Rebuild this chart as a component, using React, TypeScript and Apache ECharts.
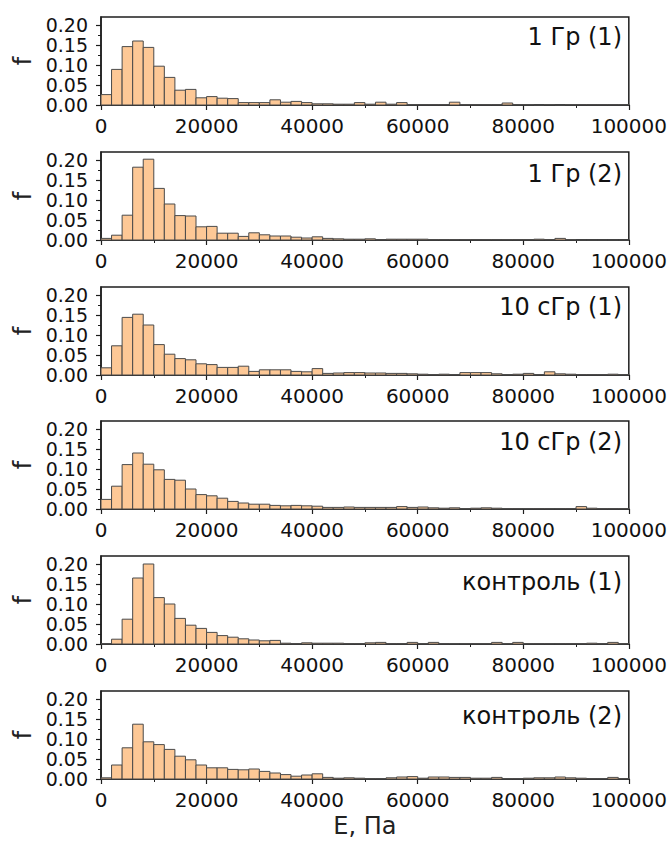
import React, { useEffect, useRef } from 'react';
import * as echarts from 'echarts';

const BIN_WIDTH = 2000;
const panelTitles = ['1 Гр (1)', '1 Гр (2)', '10 сГр (1)', '10 сГр (2)', 'контроль (1)', 'контроль (2)'];

const f1Gy1 = [0.026, 0.089, 0.146, 0.160, 0.144, 0.097, 0.069, 0.037, 0.039, 0.018, 0.021, 0.017, 0.016, 0.006, 0.006, 0.006, 0.013, 0.007, 0.009, 0.006, 0.003, 0.003,
  0.002, 0.002, 0.006, 0.002, 0.007, 0.002, 0.006, 0.001, 0.001, 0.001, 0.001, 0.007, 0.001, 0.001, 0.001, 0.001, 0.005, 0.001, 0.001, 0.000, 0.001, 0.000, 0.001, 0.001, 0.001, 0.001, 0.001, 0.001];
const f1Gy2 = [0.004, 0.012, 0.062, 0.182, 0.202, 0.129, 0.090, 0.061, 0.060, 0.033, 0.034, 0.017, 0.017, 0.009, 0.018, 0.013, 0.010, 0.010, 0.007, 0.005, 0.008, 0.004,
  0.003, 0.002, 0.002, 0.003, 0.001, 0.002, 0.002, 0.002, 0.002, 0.001, 0.001, 0.001, 0.001, 0.001, 0.001, 0.001, 0.001, 0.001, 0.001, 0.002, 0.001, 0.004, 0.001, 0.000, 0.000, 0.000, 0.000, 0.000];
const f10cGy1 = [0.018, 0.073, 0.144, 0.152, 0.125, 0.076, 0.052, 0.041, 0.038, 0.028, 0.026, 0.019, 0.019, 0.022, 0.009, 0.013, 0.013, 0.013, 0.009, 0.008, 0.016, 0.004,
  0.005, 0.006, 0.006, 0.005, 0.005, 0.004, 0.004, 0.003, 0.002, 0.001, 0.002, 0.001, 0.006, 0.006, 0.006, 0.003, 0.001, 0.002, 0.004, 0.001, 0.008, 0.003, 0.002, 0.001, 0.001, 0.001, 0.002, 0.001];
const f10cGy2 = [0.024, 0.057, 0.111, 0.140, 0.112, 0.098, 0.074, 0.072, 0.050, 0.036, 0.033, 0.027, 0.019, 0.015, 0.012, 0.012, 0.009, 0.008, 0.009, 0.008, 0.007, 0.004,
  0.004, 0.005, 0.004, 0.004, 0.004, 0.004, 0.006, 0.004, 0.005, 0.003, 0.002, 0.003, 0.001, 0.002, 0.003, 0.002, 0.001, 0.001, 0.001, 0.001, 0.001, 0.001, 0.001, 0.006, 0.002, 0.001, 0.001, 0.001];
const fControl1 = [0.001, 0.012, 0.062, 0.165, 0.200, 0.116, 0.100, 0.064, 0.047, 0.039, 0.029, 0.021, 0.017, 0.013, 0.010, 0.008, 0.009, 0.002, 0.001, 0.003, 0.002, 0.002,
  0.002, 0.001, 0.001, 0.003, 0.004, 0.001, 0.001, 0.004, 0.001, 0.004, 0.001, 0.001, 0.001, 0.001, 0.001, 0.004, 0.001, 0.004, 0.001, 0.001, 0.001, 0.001, 0.001, 0.001, 0.002, 0.001, 0.004, 0.001];
const fControl2 = [0.003, 0.035, 0.078, 0.137, 0.093, 0.086, 0.074, 0.057, 0.048, 0.035, 0.028, 0.028, 0.024, 0.023, 0.025, 0.019, 0.015, 0.011, 0.007, 0.010, 0.013, 0.004,
  0.002, 0.003, 0.002, 0.001, 0.001, 0.003, 0.005, 0.006, 0.002, 0.005, 0.005, 0.004, 0.004, 0.002, 0.002, 0.004, 0.001, 0.001, 0.002, 0.003, 0.003, 0.005, 0.003, 0.002, 0.001, 0.001, 0.004, 0.001];

const panelData = [f1Gy1, f1Gy2, f10cGy1, f10cGy2, fControl1, fControl2];

const yMajorTicks = [0, 0.05, 0.1, 0.15, 0.2];
const yMinorTicks = [0.025, 0.075, 0.125, 0.175];

const FONT = 'DejaVu Sans';
const gridTops = [17, 152, 287, 421, 556, 691];
const titleY = [37, 174, 307, 442, 582, 716];

export default function App() {
  const ref = useRef<HTMLDivElement>(null);
  useEffect(() => {
    const chart = echarts.init(ref.current!, null, { renderer: 'svg' });
    const axisColor = '#1e1e1e';
    const grids: any[] = [];
    const xAxes: any[] = [];
    const yAxes: any[] = [];
    const series: any[] = [];
    const graphics: any[] = [];
    panelData.forEach((vals, i) => {
      grids.push({
        left: 101, width: 528, top: gridTops[i], height: 88,
        show: true, borderColor: axisColor, borderWidth: 1.5, backgroundColor: 'transparent',
      });
      const last = i === panelData.length - 1;
      xAxes.push({
        type: 'value', gridIndex: i, min: 0, max: 100000, interval: 20000,
        axisLine: { show: true, onZero: false, lineStyle: { color: axisColor, width: 1.5 } },
        axisTick: { show: true, length: 5, lineStyle: { color: axisColor, width: 1.2 } },
        minorTick: { show: true, splitNumber: 2, length: 3, lineStyle: { color: axisColor, width: 1 } },
        splitLine: { show: false },
        axisLabel: {
          fontSize: 20, fontFamily: FONT, color: '#111', margin: 11,
          formatter: (v: number) => String(Math.round(v)),
        },
        name: last ? 'E, Па' : '',
        nameLocation: 'middle', nameGap: 35,
        nameTextStyle: { fontSize: 24, fontFamily: FONT, color: '#222' },
      });
      yAxes.push({
        type: 'value', gridIndex: i, min: 0, max: 0.22, interval: 0.05,
        axisLine: { show: true, lineStyle: { color: axisColor, width: 1.5 } },
        axisTick: { show: true, length: 5, customValues: yMajorTicks, lineStyle: { color: axisColor, width: 1.2 } },
        splitLine: { show: false },
        axisLabel: {
          fontSize: 19, fontFamily: FONT, color: '#111', margin: 13,
          customValues: yMajorTicks,
          formatter: (v: number) => (Math.abs(v * 20 - Math.round(v * 20)) < 1e-6 ? v.toFixed(2) : ''),
        },
        name: 'f', nameLocation: 'middle', nameRotate: 90, nameGap: 62,
        nameTextStyle: { fontSize: 24, fontFamily: FONT, color: '#222' },
      });
      yAxes.push({
        type: 'value', gridIndex: i, min: 0, max: 0.22, position: 'left',
        axisLine: { show: false },
        axisTick: { show: true, length: 3, customValues: yMinorTicks, lineStyle: { color: axisColor, width: 1 } },
        axisLabel: { show: false },
        splitLine: { show: false },
      });
      series.push({
        type: 'custom', xAxisIndex: i, yAxisIndex: i * 2,
        data: vals.map((v, k) => [k * BIN_WIDTH, (k + 1) * BIN_WIDTH, v]),
        encode: { x: [0, 1], y: 2 },
        renderItem: (params: any, api: any) => {
          const p0 = api.coord([api.value(0), 0]);
          const p1 = api.coord([api.value(1), api.value(2)]);
          return {
            type: 'rect',
            shape: { x: p0[0], y: p1[1], width: p1[0] - p0[0], height: p0[1] - p1[1] },
            style: { fill: '#fdc896', stroke: '#4a4a4a', lineWidth: 1 },
          };
        },
      });
      graphics.push({
        type: 'text', x: 622, y: titleY[i],
        style: {
          text: panelTitles[i], font: `24px "${FONT}"`, fill: '#111',
          textAlign: 'right', textVerticalAlign: 'middle', align: 'right', verticalAlign: 'middle',
        },
      });
    });
    chart.setOption({
      animation: false,
      backgroundColor: '#fff',
      grid: grids,
      xAxis: xAxes,
      yAxis: yAxes,
      series,
      graphic: graphics,
    });
    return () => chart.dispose();
  }, []);
  return <div ref={ref} style={{ position: 'absolute', left: 0, top: 0, width: 670, height: 848, background: '#fff' }} />;
}
